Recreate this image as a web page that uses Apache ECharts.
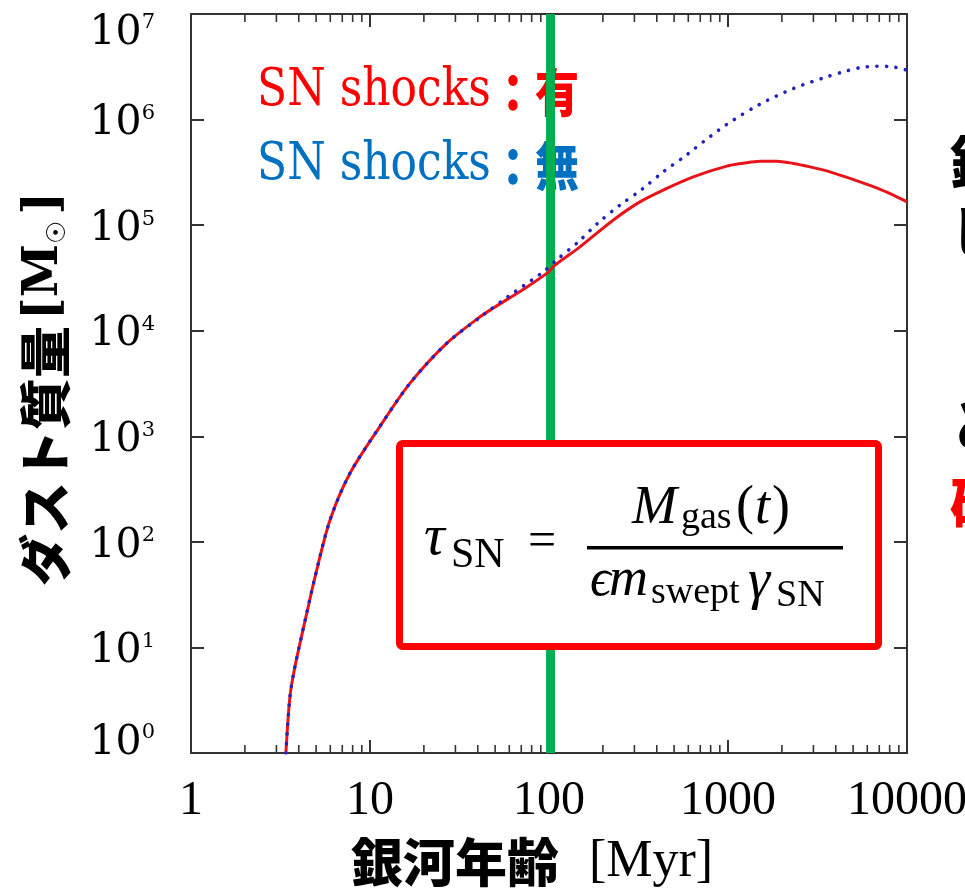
<!DOCTYPE html>
<html>
<head>
<meta charset="utf-8">
<script src="https://cdn.jsdelivr.net/npm/echarts@6/dist/echarts.min.js"></script>
<style>
  html, body { margin: 0; padding: 0; background: #ffffff; }
  #chart { width: 965px; height: 896px; }
</style>
</head>
<body>
<div id="chart"></div>
<script>
// Dust mass [Msun] versus galaxy age [Myr]
const ageWithShocks  = [3.39, 3.57, 3.81, 4.43, 4.93, 5.98, 7.73, 11.4, 16.7, 26.8, 41.2, 48.9, 72, 97.1, 108, 149, 229, 322, 455, 640, 984, 1217, 1510, 1871, 2317, 2871, 3560, 4406, 5460, 6770, 8390, 10000];
const dustWithShocks = [1, 3.4, 6.6, 21, 46.4, 161, 446, 1250, 3170, 7590, 13550, 16400, 24700, 34900, 41800, 62300, 112000, 166000, 222600, 286600, 362000, 386000, 404000, 404000, 384000, 356600, 326600, 291000, 257000, 225500, 192300, 166000];

const ageNoShocks  = [3.39, 3.57, 3.81, 4.43, 4.93, 5.98, 7.73, 11.4, 16.7, 26.8, 42.8, 60, 92.9, 110, 146, 188, 249, 330, 435, 575, 640, 984, 1510, 2317, 3560, 4400, 5460, 6770, 8390, 10000];
const dustNoShocks = [1, 3.4, 6.6, 21, 46.4, 161, 446, 1250, 3170, 7590, 14060, 21500, 36100, 46700, 69500, 105000, 154600, 217800, 320000, 450000, 520000, 900000, 1400000, 1970000, 2540000, 2830000, 3100000, 3200000, 3150000, 2940000];

// vertical marker at ~100 Myr
const markerAge  = [102, 102];
const markerDust = [1, 1e7];

const xTickLabels = ['1', '10', '100', '1000', '10000'];
const yTickExponents = ['0', '1', '2', '3', '4', '5', '6', '7'];
const minorTickAges = [2, 3, 4, 5, 6, 7, 8, 9,
                       20, 30, 40, 50, 60, 70, 80, 90,
                       200, 300, 400, 500, 600, 700, 800, 900,
                       2000, 3000, 4000, 5000, 6000, 7000, 8000, 9000];

const serif = 'DejaVu Serif';
const times = 'Liberation Serif';
const cjk = 'Noto Sans CJK JP';
const axisColor = '#333333';

const pairs = (xs, ys) => xs.map((x, i) => [x, ys[i]]);

const axisLine = { show: true, onZero: false, lineStyle: { color: axisColor, width: 2 } };
const majorTick = { show: true, inside: true, length: 13, lineStyle: { color: axisColor, width: 2 } };

// power-of-ten tick label styles; the end labels sit a little inside the axis span
function powerStyles(pad) {
  return [
    { fontFamily: serif, fontSize: 41, color: '#000', padding: pad },
    { fontFamily: serif, fontSize: 21, color: '#000', verticalAlign: 'top', padding: pad }
  ];
}
const [bMid, sMid] = powerStyles([8, 0, 0, 0]);
const [bTop, sTop] = powerStyles([38, 0, 0, 0]);
const [bBot, sBot] = powerStyles([0, 0, 20, 0]);

// formula pieces: left-aligned text placed by its vertical middle
function piece(text, x, y, size, italic, family) {
  return {
    type: 'text', x: x, y: y, z: 60,
    style: {
      text: text, fill: '#000', fontSize: size,
      fontFamily: family || times, fontStyle: italic ? 'italic' : 'normal',
      align: 'left', verticalAlign: 'middle'
    }
  };
}

const chart = echarts.init(document.getElementById('chart'), null, { renderer: 'canvas' });

const option = {
  animation: false,
  backgroundColor: '#ffffff',
  grid: { left: 191, right: 58, top: 14, bottom: 143, containLabel: false, outerBoundsMode: 'none' },
  xAxis: [
    {
      type: 'log', min: 1, max: 10000, splitNumber: 4, position: 'bottom',
      axisLine: axisLine, axisTick: majorTick, splitLine: { show: false },
      axisLabel: {
        margin: 24, color: '#000', fontFamily: times, fontSize: 48,
        formatter: v => xTickLabels[Math.round(Math.log10(v))]
      }
    },
    {
      type: 'log', min: 1, max: 10000, splitNumber: 4, position: 'top',
      axisLine: axisLine, axisTick: majorTick, splitLine: { show: false },
      axisLabel: { show: false }
    }
  ],
  yAxis: [
    {
      type: 'log', min: 1, max: 1e7, splitNumber: 7, position: 'left',
      axisLine: axisLine, axisTick: majorTick, splitLine: { show: false },
      axisLabel: {
        margin: 36,
        formatter: v => {
          const k = Math.round(Math.log10(v));
          const tag = k === 7 ? 'Top' : (k === 0 ? 'Bot' : 'Mid');
          return '{b' + tag + '|10}{s' + tag + '|' + yTickExponents[k] + '}';
        },
        rich: { bMid, sMid, bTop, sTop, bBot, sBot }
      }
    },
    {
      type: 'log', min: 1, max: 1e7, splitNumber: 7, position: 'right',
      axisLine: axisLine, axisTick: majorTick, splitLine: { show: false },
      axisLabel: { show: false }
    }
  ],
  series: [
    {
      name: 'marker', type: 'line', data: pairs(markerAge, markerDust),
      showSymbol: false, silent: true, z: 3,
      lineStyle: { color: '#00b050', width: 9 }
    },
    {
      name: 'SN shocks：有', type: 'line', data: pairs(ageWithShocks, dustWithShocks),
      showSymbol: false, smooth: 0.3, z: 4,
      lineStyle: { color: '#e8141a', width: 3 }
    },
    {
      name: 'SN shocks：無', type: 'line', data: pairs(ageNoShocks, dustNoShocks),
      showSymbol: false, smooth: 0.3, z: 5,
      lineStyle: { color: '#2323c0', width: 3.6, type: [0.1, 9.5], cap: 'round' }
    },
    {
      name: 'minor ticks', type: 'custom', silent: true, z: 2, clip: false,
      data: minorTickAges.map(v => [v, 1]),
      renderItem: (params, api) => {
        const v = api.value(0);
        const b = api.coord([v, 1]);
        const t = api.coord([v, 1e7]);
        const st = { stroke: axisColor, lineWidth: 1.6 };
        return {
          type: 'group',
          children: [
            { type: 'line', shape: { x1: b[0], y1: b[1], x2: b[0], y2: b[1] - 8 }, style: st },
            { type: 'line', shape: { x1: t[0], y1: t[1], x2: t[0], y2: t[1] + 8 }, style: st }
          ]
        };
      }
    }
  ],
  graphic: [
    // series labels
    {
      type: 'text', x: 257, y: 92, z: 0, scaleY: 1.18,
      style: {
        text: '{a|SN shocks}{c|：有}', verticalAlign: 'middle',
        rich: {
          a: { fontFamily: serif, fontSize: 44, fill: '#ff0000' },
          c: { fontFamily: cjk, fontSize: 44, fontWeight: 900, fill: '#ff0000' }
        }
      }
    },
    {
      type: 'text', x: 257, y: 166, z: 0, scaleY: 1.18,
      style: {
        text: '{a|SN shocks}{c|：無}', verticalAlign: 'middle',
        rich: {
          a: { fontFamily: serif, fontSize: 44, fill: '#0070c0' },
          c: { fontFamily: cjk, fontSize: 44, fontWeight: 900, fill: '#0070c0' }
        }
      }
    },
    // y axis title
    {
      type: 'text', x: 45, y: 389, rotation: Math.PI / 2, z: 10,
      style: {
        text: '{j|ダスト質量}{m|[M}{o|☉}{m|]}', align: 'center', verticalAlign: 'middle',
        rich: {
          j: { fontFamily: cjk, fontSize: 52, fontWeight: 900, fill: '#000' },
          m: { fontFamily: serif, fontSize: 48, fontWeight: 'bold', fill: '#000', padding: [0, 0, 0, 6] },
          o: { fontFamily: 'DejaVu Sans', fontSize: 26, fill: '#000', verticalAlign: 'bottom' }
        }
      }
    },
    // x axis title
    {
      type: 'text', x: 532, y: 862, z: 10,
      style: {
        text: '{j|銀河年齢}{m|[Myr]}', align: 'center', verticalAlign: 'middle',
        rich: {
          j: { fontFamily: cjk, fontSize: 52, fontWeight: 900, fill: '#000' },
          m: { fontFamily: times, fontSize: 52, fill: '#000', padding: [0, 0, 0, 30] }
        }
      }
    },
    // formula box
    {
      type: 'rect', z: 50,
      shape: { x: 399.5, y: 443.5, width: 479, height: 203, r: 3 },
      style: { fill: '#ffffff', stroke: '#ff0000', lineWidth: 7 }
    },
    piece('τ', 424, 539, 58, true),
    piece('SN', 451, 556, 42, false),
    piece('=', 528, 543, 50, false),
    { type: 'rect', z: 60, shape: { x: 587, y: 546, width: 256, height: 3.5 }, style: { fill: '#000' } },
    piece('M', 632, 509, 54, true),
    piece('gas', 681, 518, 38, false),
    piece('(', 736, 509, 54, false),
    piece('t', 755, 509, 54, true),
    piece(')', 772, 509, 54, false),
    piece('ϵ', 590, 581, 52, true, 'Liberation Serif, DejaVu Serif'),
    piece('m', 609, 581, 54, true),
    piece('swept', 651, 593, 38, false),
    piece('γ', 748, 583, 56, true),
    piece('SN', 776, 596, 38, false),
    // neighbouring slide text at the right edge
    { type: 'text', x: 950, y: 162, z: 10, style: { text: '銀', fontFamily: cjk, fontSize: 56, fontWeight: 900, fill: '#000', verticalAlign: 'middle' } },
    { type: 'text', x: 950, y: 232, z: 10, style: { text: 'し', fontFamily: cjk, fontSize: 56, fontWeight: 900, fill: '#000', verticalAlign: 'middle' } },
    { type: 'text', x: 950, y: 425, z: 10, style: { text: 'と', fontFamily: cjk, fontSize: 56, fontWeight: 900, fill: '#000', verticalAlign: 'middle' } },
    { type: 'text', x: 950, y: 503, z: 10, style: { text: '確', fontFamily: cjk, fontSize: 56, fontWeight: 900, fill: '#ff0000', verticalAlign: 'middle' } }
  ]
};

chart.setOption(option);
</script>
</body>
</html>
